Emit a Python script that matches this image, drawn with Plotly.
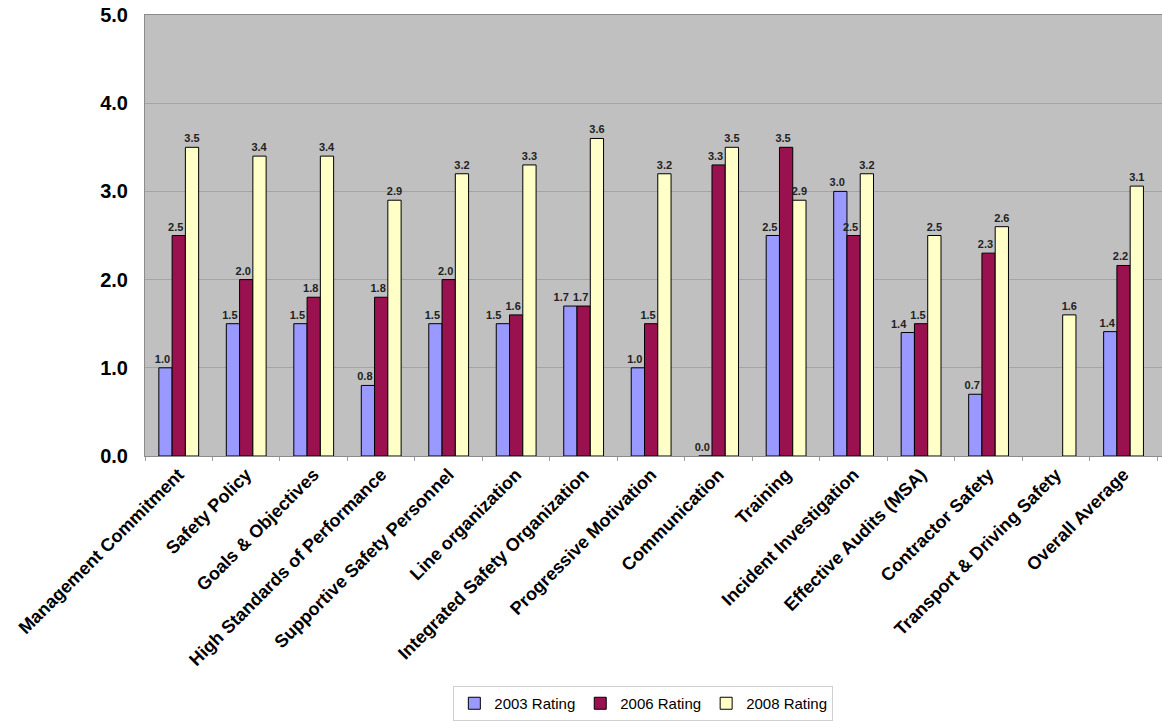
import plotly.graph_objects as go

categories = [
    "Management Commitment", "Safety Policy", "Goals & Objectives",
    "High Standards of Performance", "Supportive Safety Personnel",
    "Line organization", "Integrated Safety Organization",
    "Progressive Motivation", "Communication", "Training",
    "Incident Investigation", "Effective Audits (MSA)", "Contractor Safety",
    "Transport & Driving Safety", "Overall Average",
]
rating_2003 = [1.0, 1.5, 1.5, 0.8, 1.5, 1.5, 1.7, 1.0, 0.0, 2.5, 3.0, 1.4, 0.7, None, 1.41]
rating_2006 = [2.5, 2.0, 1.8, 1.8, 2.0, 1.6, 1.7, 1.5, 3.3, 3.5, 2.5, 1.5, 2.3, None, 2.16]
rating_2008 = [3.5, 3.4, 3.4, 2.9, 3.2, 3.3, 3.6, 3.2, 3.5, 2.9, 3.2, 2.5, 2.6, 1.6, 3.06]

series = [
    ("2003 Rating", rating_2003, "#9999FF"),
    ("2006 Rating", rating_2006, "#99124F"),
    ("2008 Rating", rating_2008, "#FFFFC8"),
]

FONT = "Liberation Sans, Arial, sans-serif"
NB = "\u00a0"
BASE = "<b>%{y:.1f}</b>"

# labels sit slightly left of their bars (as Excel draws them); when 2003/2006
# labels are at nearly the same height, nudge the 2003 one further left
close = [a is not None and b is not None and abs(a - b) < 0.15
         for a, b in zip(rating_2003, rating_2006)]
templates = {
    "2003 Rating": [BASE + NB * (6 if c else 2) for c in close],
    "2006 Rating": BASE + NB * 2,
    "2008 Rating": BASE,
}

fig = go.Figure()
for name, vals, color in series:
    fig.add_trace(go.Bar(
        name=name, x=categories, y=vals,
        marker=dict(color=color, line=dict(color="#000000", width=1)),
        texttemplate=templates[name], textposition="outside",
        constraintext="none",
        textfont=dict(family=FONT, size=11, color="#222222"),
        cliponaxis=False,
    ))

fig.update_layout(
    width=1162, height=721,
    margin=dict(l=145, r=0, t=15, b=263),
    paper_bgcolor="white", plot_bgcolor="#C0C0C0",
    barmode="group", bargap=0.41, bargroupgap=0,
    font=dict(family=FONT, color="#000000"),
    legend=dict(
        orientation="h", x=0.49, xanchor="center", y=-0.562, yanchor="middle",
        font=dict(family=FONT, size=15, color="#000000"),
        bordercolor="#D0D0D0", borderwidth=1, bgcolor="white",
        itemwidth=30, tracegroupgap=0,
    ),
    showlegend=True,
)
fig.update_yaxes(
    range=[0, 5], dtick=1, tickformat=".1f",
    tickprefix="<b>", ticksuffix="</b>",
    tickfont=dict(family=FONT, size=20, color="#000000"),
    ticklabelstandoff=12,
    showgrid=True, gridcolor="#A4A4A4", gridwidth=1,
    showline=True, linecolor="#8C8C8C", linewidth=1, mirror=True,
    zeroline=False,
)
fig.update_xaxes(
    range=[-0.5, 14.57], tickangle=-45,
    tickfont=dict(family=FONT, size=18, color="#000000"),
    tickprefix="<b>", ticksuffix="</b>",
    tickson="boundaries", ticks="outside", ticklen=4, tickcolor="#A0A0A0",
    showline=True, linecolor="#8C8C8C", linewidth=1, mirror=True,
    showgrid=False,
)

fig.write_html("out.html")
